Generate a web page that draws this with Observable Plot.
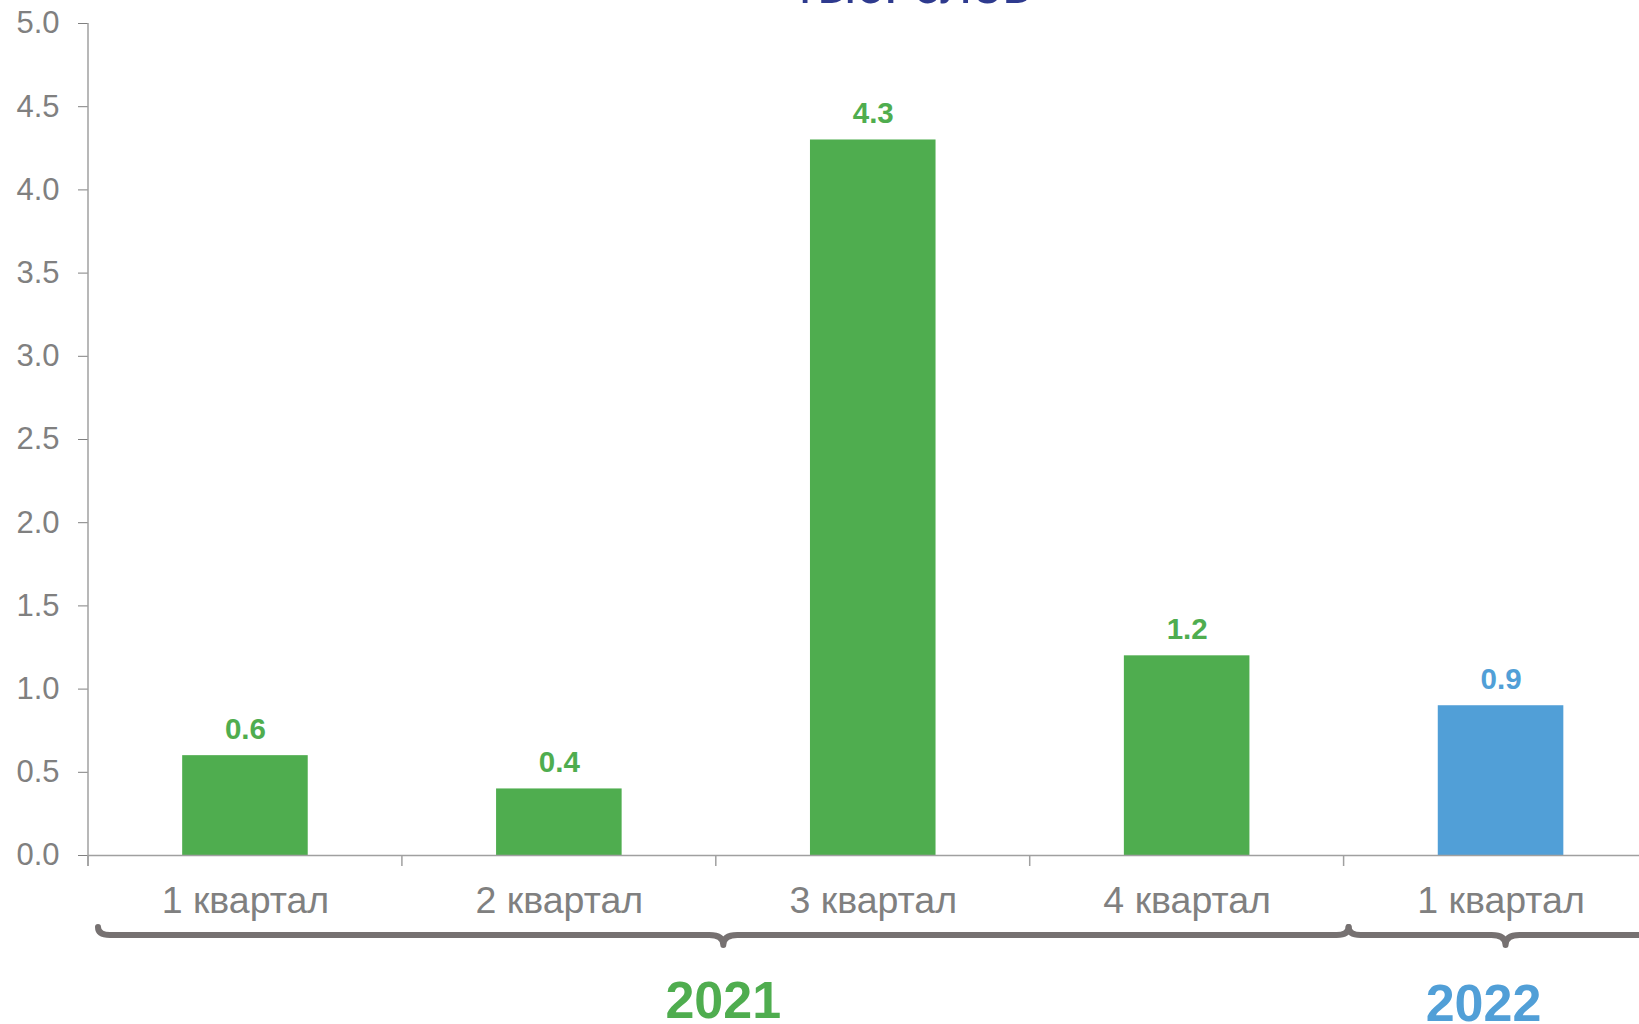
<!DOCTYPE html>
<html><head><meta charset="utf-8">
<script src="https://cdn.jsdelivr.net/npm/d3@7"></script>
<script src="https://cdn.jsdelivr.net/npm/@observablehq/plot@0.6"></script>
<style>html,body{margin:0;padding:0;background:#fff;overflow:hidden}#chart svg{display:block}</style>
</head><body><div id="chart"></div>
<script>
// ---- data ----
const ids = ["2021-Q1", "2021-Q2", "2021-Q3", "2021-Q4", "2022-Q1"];
const labels = ["1 квартал", "2 квартал", "3 квартал", "4 квартал", "1 квартал"];
const values = [0.6, 0.4, 4.3, 1.2, 0.9];
const yearOf = ["2021", "2021", "2021", "2021", "2022"];
const years = ["2021", "2022"];
const yTicks = [0, 0.5, 1, 1.5, 2, 2.5, 3, 3.5, 4, 4.5, 5];
const title = "тыс. слов";

// ---- style ----
const GREEN = "#4FAD4F", BLUE = "#519FD7", GRAY = "#808080", AXIS = "#A0A0A0", BRACE = "#767171";
const FONT = "'Liberation Sans', Arial, sans-serif";

const data = ids.map((id, i) => ({id, label: labels[i], value: values[i], year: yearOf[i]}));

const chart = Plot.plot({
  width: 1639, height: 1024,
  marginLeft: 88, marginRight: 0, marginTop: 23, marginBottom: 169,
  style: {fontFamily: FONT, background: "#fff"},
  x: {domain: ids, range: [88, 1657.5], paddingInner: 0.6, paddingOuter: 0.3, round: false, label: null},
  y: {domain: [0, 5], label: null},
  color: {domain: years, range: [GREEN, BLUE]},
  marks: [
    Plot.barY(data, {x: "id", y: "value", fill: "year"}),
    Plot.text(data, {x: "id", y: "value", text: d => d.value.toFixed(1), fill: "year",
      lineAnchor: "bottom", dy: -17, fontSize: 29.5, fontWeight: "bold"}),
    Plot.ruleY([0], {stroke: AXIS, strokeWidth: 1.5}),
    Plot.axisY({ticks: yTicks, tickFormat: d3.format(".1f"), tickSize: 10, tickPadding: 19,
      fontSize: 31, color: GRAY, label: null}),
    Plot.axisX({tickSize: 0, tickPadding: 31, fontSize: 37.5, color: GRAY, label: null,
      tickFormat: d => labels[ids.indexOf(d)]})
  ]
});
document.getElementById("chart").appendChild(chart);

// ---- annotations using the plot's scales ----
const sx = chart.scale("x"), sy = chart.scale("y");
const bw = sx.bandwidth;
const step = sx.step || bw / (1 - 0.6);
const boundary = id => sx.apply(id) + bw / 2 - step / 2;
const svg = d3.select(chart);
const g = svg.append("g");
const y0 = sy.apply(0), yTop = sy.apply(5);

// y axis line (extends a bit below zero)
g.append("line").attr("x1", 88).attr("x2", 88).attr("y1", yTop).attr("y2", y0 + 11)
  .attr("stroke", AXIS).attr("stroke-width", 1.5);
// category boundary ticks
ids.forEach(id => {
  const bx = boundary(id);
  g.append("line").attr("x1", bx).attr("x2", bx).attr("y1", y0).attr("y2", y0 + 11)
    .attr("stroke", AXIS).attr("stroke-width", 1.5);
});

// braces + year labels
const braceY = 935;
years.forEach((yr, k) => {
  const members = ids.filter((id, i) => yearOf[i] === yr);
  const xa = boundary(members[0]) + (k === 0 ? 10 : 5);
  const xb = boundary(members[members.length - 1]) + step + 5;
  const xm = (xa + xb) / 2;
  const r = 12;
  const d = `M${xa},${braceY - 8} Q${xa},${braceY} ${xa + r},${braceY}` +
    ` L${xm - 14},${braceY} Q${xm},${braceY} ${xm},${braceY + 10}` +
    ` Q${xm},${braceY} ${xm + 14},${braceY} L${xb - r},${braceY}` +
    ` Q${xb},${braceY} ${xb},${braceY - 8}`;
  g.append("path").attr("d", d).attr("fill", "none").attr("stroke", BRACE)
    .attr("stroke-width", 6).attr("stroke-linecap", "round").attr("stroke-linejoin", "round");
  g.append("text").attr("x", xm + (k === 1 ? -22 : 0)).attr("y", k === 1 ? 1021 : 1018)
    .attr("text-anchor", "middle").attr("font-family", FONT).attr("font-weight", "bold")
    .attr("font-size", 52).attr("fill", k === 0 ? GREEN : BLUE).text(yr);
});

// title (cut off at the top edge, as in the reference)
g.append("text").attr("x", 912).attr("y", 3).attr("text-anchor", "middle")
  .attr("font-family", FONT).attr("font-size", 54).attr("fill", "#2E3A8E").text(title);
</script>
</body></html>
